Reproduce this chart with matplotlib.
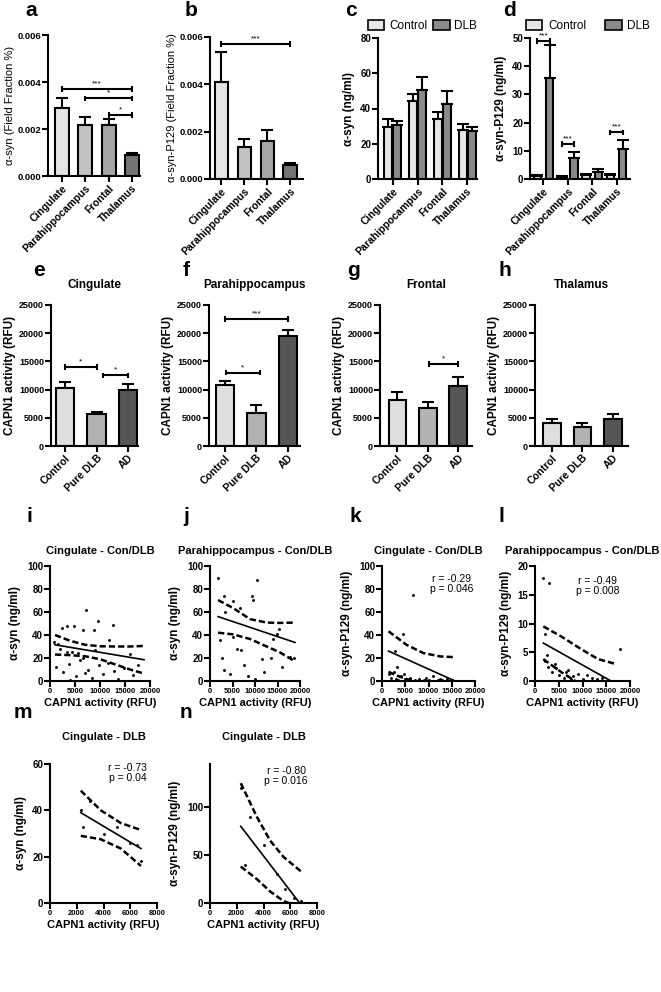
import numpy as np
import matplotlib
matplotlib.use("Agg")
import matplotlib.pyplot as plt
import matplotlib.patches as mpatches

plt.rcParams['font.family'] = ['Liberation Sans', 'DejaVu Sans']

# ---------------- data ----------------
regions = ['Cingulate', 'Parahippocampus', 'Frontal', 'Thalamus']
groups = ['Control', 'Pure DLB', 'AD']

a_mean = [0.0029, 0.00218, 0.00216, 0.00088]
a_sem = [0.0004, 0.00033, 0.00025, 0.0001]
b_mean = [0.0041, 0.00137, 0.00162, 0.0006]
b_sem = [0.00128, 0.0003, 0.00044, 0.00008]

c_ctrl = [29.5, 44, 34, 28]
c_ctrl_sem = [4.5, 4, 4, 3]
c_dlb = [30.5, 50.5, 42.5, 27]
c_dlb_sem = [2.5, 7.5, 7.5, 2.5]

d_ctrl = [1.2, 0.7, 1.5, 1.3]
d_ctrl_sem = [0.3, 0.2, 0.4, 0.3]
d_dlb = [35.8, 7.6, 2.5, 10.6]
d_dlb_sem = [11.7, 1.8, 1.0, 3.2]

e_mean = [10200, 5600, 9900]
e_sem = [1200, 500, 1100]
f_mean = [10800, 5900, 19500]
f_sem = [800, 1300, 1000]
g_mean = [8200, 6800, 10600]
g_sem = [1300, 1000, 1600]
h_mean = [4000, 3400, 4800]
h_sem = [700, 600, 800]

# scatter panels: CAPN1 activity (x) vs alpha-syn (y)
i_x = [700, 1500, 1900, 2300, 3300, 3300, 4300, 4700, 5500, 6500, 6500, 7200, 8700, 9000, 9500,
       11700, 12500, 16000, 1200, 2500, 3800, 5200, 6000, 7500, 8300, 9800, 10500, 11500, 12800,
       13500, 14800, 16500, 17500, 4000, 7000]
i_y = [33.7, 32.5, 27.8, 46.3, 48, 25.2, 25.2, 48, 24.3, 44, 20, 61.7, 44.4, 26.6, 52,
       35.6, 49, 23.8, 12, 8, 15, 4, 18, 10, 3, 14, 6, 16, 9,
       2, 11, 5, 14, 1, 7]
i_fit_x = [1000, 18800]
i_fit_y = [31.5, 18.5]
i_ci_x = [1000, 4000, 7000, 10000, 13000, 16000, 18800]
i_ci_hi = [40, 35, 31.5, 30.2, 30, 30, 30.5]
i_ci_lo = [23, 22.5, 21.5, 19, 14.5, 10, 6.5]

j_x = [1850, 3110, 5030, 6660, 3330, 10500, 9250, 9620, 2220, 5030, 5920, 6810, 2590, 11470,
       13470, 15400, 14960, 14070, 17780, 18740, 3000, 4500, 7500, 8500, 12000, 16000, 10000]
j_y = [89.8, 73.5, 69.7, 63.3, 59.8, 88.2, 74, 70.4, 36, 38.5, 27.8, 27.1, 20.2, 18.8,
       20, 45.6, 41.3, 36.6, 20.7, 20, 10, 6, 14, 4, 8, 12, 2]
j_fit_x = [1800, 18900]
j_fit_y = [56, 33.5]
j_ci_x = [1800, 5200, 8900, 12600, 15500, 18900]
j_ci_hi = [70.4, 63.3, 53.8, 50.8, 50.5, 50.8]
j_ci_lo = [42, 40.5, 36.5, 30, 25, 17]

k_x = [2800, 4440, 6660, 1500, 2000, 2500, 3000, 3500, 4000, 5000, 5500, 6000, 7000, 8000, 9000,
       10000, 11000, 12000, 13000, 14000, 15000, 3200, 4800, 9500, 12500]
k_y = [26, 41.3, 74.4, 6, 3, 8, 2, 1, 4, 1.5, 0.5, 3, 1, 2, 0.5,
       1, 4, 0.5, 1, 2, 0.5, 12, 6, 3, 1.5]
k_fit_x = [1400, 15700]
k_fit_y = [26, 0]
k_ci_x = [1400, 5300, 8900, 12500, 15700]
k_ci_hi = [43.2, 31.4, 24.3, 21.4, 20.7]
k_ci_lo_x = [1400, 3000, 5000, 7000]
k_ci_lo = [8, 5, 2, 0]

l_x = [1700, 3010, 2100, 17850, 2450, 2000, 2800, 3500, 4200, 5000, 6000, 7000, 8000, 9000,
       10000, 11000, 12000, 13000, 14000, 4500, 6500, 7500]
l_y = [17.95, 17.0, 8.2, 5.6, 4.5, 3.5, 2.5, 1.5, 3, 1, 0.5, 2, 0.8, 1.2,
       0.4, 1, 0.5, 0.3, 0.6, 2.2, 1.5, 0.3]
l_fit_x = [1750, 16000]
l_fit_y = [6.6, 0]
l_ci_x = [1750, 5600, 9800, 13300, 16800]
l_ci_hi = [9.5, 7.7, 5.5, 3.8, 3.0]
l_ci_lo_x = [1750, 5600, 8500]
l_ci_lo = [3.8, 1.5, 0]

m_x = [2300, 2500, 3000, 4000, 5000, 6000, 6500, 6800]
m_y = [40, 33, 44, 30, 33, 26, 25, 18]
m_fit_x = [2300, 6800]
m_fit_y = [39, 23.5]
m_ci_x = [2300, 3800, 5300, 6800]
m_ci_hi = [48.5, 40, 34.5, 31.5]
m_ci_lo = [29, 27.5, 23.5, 16]

n_x = [2300, 2600, 3000, 4000, 5000, 5600, 6300, 6800]
n_y = [120, 40, 90, 60, 30, 15, 5, 2]
n_fit_x = [2300, 6700]
n_fit_y = [80, 0]
n_ci_x = [2300, 3500, 4500, 5500, 6800]
n_ci_hi = [125, 90, 65, 48, 33]
n_ci_lo_x = [2300, 3500, 4500, 5500, 5900]
n_ci_lo = [38, 25, 12, 2, 0]

# ---------------- layout helpers ----------------
W, H = 661, 992
fig = plt.figure(figsize=(W / 100, H / 100), dpi=100)


def box(x0, top, x1, bottom):
    return fig.add_axes([x0 / W, 1 - bottom / H, (x1 - x0) / W, (bottom - top) / H])


def style(ax, xs=7, ys=7):
    for s in ['top', 'right']:
        ax.spines[s].set_visible(False)
    for s in ['left', 'bottom']:
        ax.spines[s].set_linewidth(1.5)
    ax.tick_params(width=1.5, length=4, pad=1)
    ax.tick_params(axis='x', labelsize=xs)
    ax.tick_params(axis='y', labelsize=ys)
    for lb in ax.get_xticklabels() + ax.get_yticklabels():
        lb.set_fontweight('bold')


def letter(x, y, s):
    fig.text(x / W, 1 - y / H, s, fontsize=15, fontweight='bold', va='center', ha='left')


def bracket(ax, x1, x2, y, txt, h):
    kw = dict(color='k', lw=1.5, clip_on=False, solid_capstyle='butt')
    ax.plot([x1, x2], [y, y], **kw)
    ax.plot([x1, x1], [y - h, y + h], **kw)
    ax.plot([x2, x2], [y - h, y + h], **kw)
    ax.text((x1 + x2) / 2, y + h * 0.6, txt, ha='center', va='bottom', fontsize=6, clip_on=False)


def bars(ax, x, mean, sem, colors, width):
    ax.bar(x, mean, width=width, color=colors, edgecolor='k', linewidth=1.5, zorder=2)
    ax.errorbar(x, mean, yerr=[np.zeros(len(mean)), sem], fmt='none', ecolor='k',
                elinewidth=1.5, capsize=4, capthick=1.5, zorder=1)


def rot_labels(ax, labels, size=7.5):
    ax.set_xticklabels(labels, rotation=45, ha='right', rotation_mode='anchor',
                       fontsize=size, fontweight='bold')


reg_cols = ['#e4e4e4', '#c2c2c2', '#a6a6a6', '#747474']
ctrl_col, dlb_col = '#e6e6e6', '#8a8a8a'
grp_cols = ['#dedede', '#b2b2b2', '#555555']

# ---------------- row 1 ----------------
ax = box(48, 35, 140, 176)
x = np.arange(4)
bars(ax, x, a_mean, a_sem, reg_cols, 0.6)
ax.set_xlim(-0.6, 3.35)
ax.set_ylim(0, 0.006)
ax.set_yticks([0, 0.002, 0.004, 0.006])
ax.set_yticklabels(['0.000', '0.002', '0.004', '0.006'])
ax.set_xticks(x)
style(ax, ys=6.8)
rot_labels(ax, regions)
ax.set_ylabel('α-syn (Field Fraction %)', fontsize=8, labelpad=2)
bracket(ax, 0, 3, 0.0037, '***', 0.00012)
bracket(ax, 1, 3, 0.0033, '*', 0.00012)
bracket(ax, 2, 3, 0.0026, '*', 0.00012)
letter(25, 10, 'a')

ax = box(210, 37, 303, 179)
bars(ax, x, b_mean, b_sem, reg_cols, 0.6)
ax.set_xlim(-0.5, 3.55)
ax.set_ylim(0, 0.006)
ax.set_yticks([0, 0.002, 0.004, 0.006])
ax.set_yticklabels(['0.000', '0.002', '0.004', '0.006'])
ax.set_xticks(x)
style(ax, ys=6.8)
rot_labels(ax, regions)
ax.set_ylabel('α-syn-P129 (Field Fraction %)', fontsize=8, labelpad=2)
bracket(ax, 0, 3, 0.0057, '***', 0.00012)
letter(185, 10, 'b')

ax = box(378, 38, 477, 179)
bars(ax, x - 0.18, c_ctrl, c_ctrl_sem, ctrl_col, 0.32)
bars(ax, x + 0.18, c_dlb, c_dlb_sem, dlb_col, 0.32)
ax.set_xlim(-0.6, 3.4)
ax.set_ylim(0, 80)
ax.set_yticks([0, 20, 40, 60, 80])
ax.set_xticks(x)
style(ax)
rot_labels(ax, regions)
ax.set_ylabel('α-syn (ng/ml)', fontsize=8.5, fontweight='bold')
hs = [mpatches.Patch(fc=ctrl_col, ec='k', lw=1.2), mpatches.Patch(fc=dlb_col, ec='k', lw=1.2)]
ax.legend(hs, ['Control', 'DLB'], ncol=2, frameon=False, loc='lower center',
          bbox_to_anchor=(0.45, 1.0), fontsize=8.5, handlelength=1.4, handleheight=0.9,
          columnspacing=0.5, handletextpad=0.4, borderaxespad=0.1)
letter(345, 10, 'c')

ax = box(530, 38, 630, 179)
bars(ax, x - 0.25, d_ctrl, d_ctrl_sem, ctrl_col, 0.3)
bars(ax, x + 0.25, d_dlb, d_dlb_sem, dlb_col, 0.3)
ax.set_xlim(-0.55, 3.55)
ax.set_ylim(0, 50)
ax.set_yticks([0, 10, 20, 30, 40, 50])
ax.set_xticks(x)
style(ax)
rot_labels(ax, regions)
ax.set_ylabel('α-syn-P129 (ng/ml)', fontsize=8.5, fontweight='bold')
bracket(ax, -0.25, 0.25, 49, '***', 1.0)
bracket(ax, 0.75, 1.25, 12.5, '***', 1.0)
bracket(ax, 2.75, 3.25, 16.5, '***', 1.0)
ax.legend(hs, ['Control', 'DLB'], ncol=2, frameon=False, loc='lower center',
          bbox_to_anchor=(0.58, 1.0), fontsize=8.5, handlelength=1.4, handleheight=0.9,
          columnspacing=1.6, handletextpad=0.5, borderaxespad=0.1)
letter(503, 10, 'd')

# ---------------- row 2 ----------------
row2 = [
    (51, 138, -0.45, 2.32, e_mean, e_sem, 'Cingulate', 'e', 33,
     [(0, 1, 14000, '*'), (1.2, 2, 12500, '*')]),
    (209, 300, -0.5, 2.38, f_mean, f_sem, 'Parahippocampus', 'f', 183,
     [(0, 2, 22500, '***'), (0.05, 1.1, 13000, '*')]),
    (380, 472, -0.57, 2.45, g_mean, g_sem, 'Frontal', 'g', 347,
     [(1.05, 2, 14500, '*')]),
    (535, 628, -0.56, 2.5, h_mean, h_sem, 'Thalamus', 'h', 498, []),
]
gx = np.arange(3)
for x0, x1, lo, hi, mean, sem, title, let, lx, brs in row2:
    ax = box(x0, 305, x1, 446)
    bars(ax, gx, mean, sem, grp_cols, 0.58)
    ax.set_xlim(lo, hi)
    ax.set_ylim(0, 25000)
    ax.set_yticks([0, 5000, 10000, 15000, 20000, 25000])
    ax.set_xticks(gx)
    style(ax, ys=6.5)
    rot_labels(ax, groups)
    ax.set_ylabel('CAPN1 activity (RFU)', fontsize=8.5, fontweight='bold', labelpad=2)
    ax.set_title(title, fontsize=8.5, fontweight='bold', pad=12)
    for b1, b2, by, bt in brs:
        bracket(ax, b1, b2, by, bt, 500)
    letter(lx, 271, let)


# ---------------- scatter rows ----------------
def scatter_panel(ax, xs, ys, fx, fy, cx, chi, clo, clo_x=None):
    ax.scatter(xs, ys, s=1.2, color='k', zorder=3, clip_on=False)
    ax.plot(fx, fy, color='k', lw=1.2)
    ax.plot(cx, chi, color='k', lw=1.8, dashes=(2.5, 1.2))
    ax.plot(clo_x if clo_x is not None else cx, clo, color='k', lw=1.8, dashes=(2.5, 1.2))


def finish_scatter(ax, title, ylabel, ymax, yticks, xmax, xticks, tpad=9):
    ax.set_xlim(0, xmax)
    ax.set_ylim(0, ymax)
    ax.set_yticks(yticks)
    ax.set_xticks(xticks)
    style(ax, xs=5.5, ys=7)
    ax.set_title(title, fontsize=8, fontweight='bold', pad=tpad)
    ax.set_ylabel(ylabel, fontsize=8.5, fontweight='bold')
    ax.set_xlabel('CAPN1 activity (RFU)', fontsize=8, fontweight='bold', labelpad=2)


t3, b3 = 566, 681
big_ticks = [0, 5000, 10000, 15000, 20000]

ax = box(50, t3, 150, b3)
scatter_panel(ax, i_x, i_y, i_fit_x, i_fit_y, i_ci_x, i_ci_hi, i_ci_lo)
finish_scatter(ax, 'Cingulate - Con/DLB', 'α-syn (ng/ml)', 100, [0, 20, 40, 60, 80, 100], 20000, big_ticks)
letter(27, 517, 'i')

ax = box(210, t3, 300, b3)
scatter_panel(ax, j_x, j_y, j_fit_x, j_fit_y, j_ci_x, j_ci_hi, j_ci_lo)
finish_scatter(ax, 'Parahippocampus - Con/DLB', 'α-syn (ng/ml)', 100, [0, 20, 40, 60, 80, 100], 20000, big_ticks)
letter(183, 517, 'j')

ax = box(382, t3, 475, b3)
scatter_panel(ax, k_x, k_y, k_fit_x, k_fit_y, k_ci_x, k_ci_hi, k_ci_lo, k_ci_lo_x)
finish_scatter(ax, 'Cingulate - Con/DLB', 'α-syn-P129 (ng/ml)', 100, [0, 20, 40, 60, 80, 100], 20000, big_ticks)
ax.text(15000, 84, 'r = -0.29\np = 0.046', ha='center', va='center', fontsize=7.5, linespacing=1.0)
letter(350, 517, 'k')

ax = box(535, t3, 630, b3)
scatter_panel(ax, l_x, l_y, l_fit_x, l_fit_y, l_ci_x, l_ci_hi, l_ci_lo, l_ci_lo_x)
finish_scatter(ax, 'Parahippocampus - Con/DLB', 'α-syn-P129 (ng/ml)', 20, [0, 5, 10, 15, 20], 20000, big_ticks)
ax.text(13200, 16.6, 'r = -0.49\np = 0.008', ha='center', va='center', fontsize=7.5, linespacing=1.0)
letter(498, 517, 'l')

t4, b4 = 764, 903
small_ticks = [0, 2000, 4000, 6000, 8000]

ax = box(50, t4, 157, b4)
scatter_panel(ax, m_x, m_y, m_fit_x, m_fit_y, m_ci_x, m_ci_hi, m_ci_lo)
finish_scatter(ax, 'Cingulate - DLB', 'α-syn (ng/ml)', 60, [0, 20, 40, 60], 8000, small_ticks, tpad=17)
ax.text(5800, 56, 'r = -0.73\np = 0.04', ha='center', va='center', fontsize=7.5, linespacing=1.0)
letter(14, 712, 'm')

ax = box(210, t4, 317, b4)
scatter_panel(ax, n_x, n_y, n_fit_x, n_fit_y, n_ci_x, n_ci_hi, n_ci_lo, n_ci_lo_x)
finish_scatter(ax, 'Cingulate - DLB', 'α-syn-P129 (ng/ml)', 145, [0, 50, 100], 8000, small_ticks, tpad=17)
ax.text(5700, 133, 'r = -0.80\np = 0.016', ha='center', va='center', fontsize=7.5, linespacing=1.0)
letter(180, 712, 'n')

fig.savefig('out.png', dpi=100)
